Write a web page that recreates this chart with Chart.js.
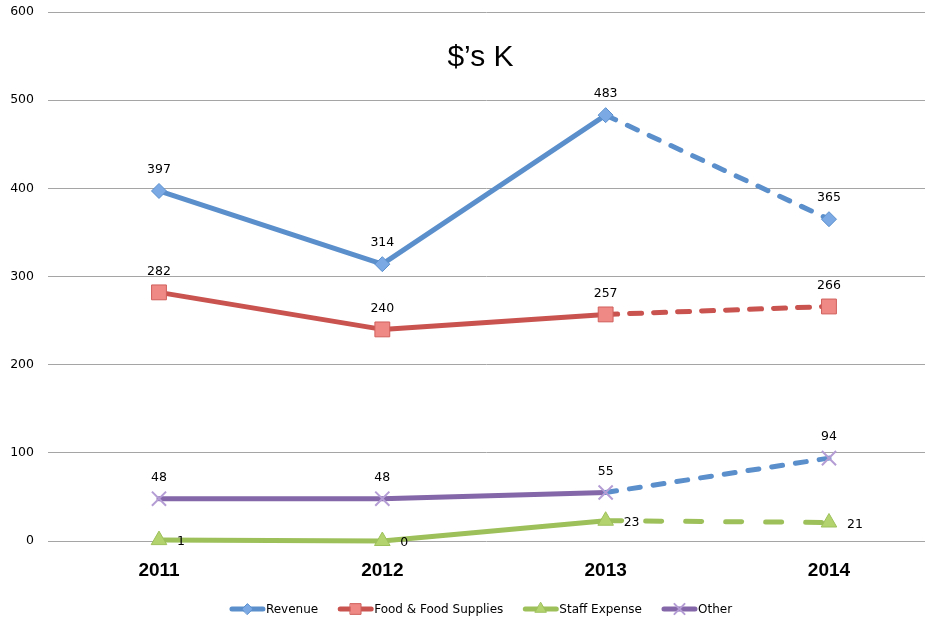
<!DOCTYPE html>
<html><head><meta charset="utf-8">
<script src="https://cdn.jsdelivr.net/npm/chart.js@4.4.0/dist/chart.umd.min.js"></script>
<style>html,body{margin:0;padding:0;background:#fff}</style>
</head><body>
<canvas id="c" width="928" height="618"></canvas>
<script>
// ---- data ----
const years = [2011, 2012, 2013, 2014];
const revenue = [397, 314, 483, 365];
const food = [282, 240, 257, 266];
const staff = [1, 0, 23, 21];
const other = [48, 48, 55, 94];
const yTickValues = [0, 100, 200, 300, 400, 500, 600];
const seriesNames = ['Revenue', 'Food & Food Supplies', 'Staff Expense', 'Other'];
const titleText = '$\u2019s K';

// ---- styles ----
const BLUE = '#5A8FCC', RED = '#C9534F', GREEN = '#9DC05A', PURPLE = '#8467A8';
const styles = [
  {line: BLUE, dashColor: BLUE, dash: [11, 13], ps: 'rectRot', r: 7.5, fill: '#7BA9E4', border: '#5A8FCC', bw: 1, side: 'top'},
  {line: RED, dashColor: RED, dash: [12, 12], ps: 'rect', r: 10.5, fill: '#EE8985', border: '#D0605C', bw: 1, side: 'top'},
  {line: GREEN, dashColor: GREEN, dash: [16, 24], ps: 'triangle', r: 9, fill: '#B3D36F', border: '#9DC05A', bw: 1, side: 'right'},
  {line: PURPLE, dashColor: BLUE, dash: [11, 13], ps: 'crossRot', r: 10, fill: '#B49DD4', border: '#B49DD4', bw: 2, side: 'top'}
];
const seriesValues = [revenue, food, staff, other];

const datasets = seriesValues.map((vals, i) => {
  const s = styles[i];
  return {
    label: seriesNames[i],
    data: years.map((y, j) => ({x: y, y: vals[j]})),
    borderColor: s.line,
    borderWidth: 5,
    borderCapStyle: 'round',
    borderJoinStyle: 'round',
    pointStyle: s.ps,
    pointRadius: s.r,
    pointHoverRadius: s.r,
    pointBackgroundColor: s.fill,
    pointBorderColor: s.border,
    pointBorderWidth: s.bw,
    tension: 0,
    fill: false,
    clip: false,
    labelSide: s.side,
    segment: {
      borderDash: ctx => ctx.p1DataIndex === years.length - 1 ? s.dash : undefined,
      borderColor: ctx => ctx.p1DataIndex === years.length - 1 ? s.dashColor : undefined
    }
  };
});

// ---- plugins ----
const valueLabels = {
  id: 'valueLabels',
  afterDatasetsDraw(chart) {
    const ctx = chart.ctx;
    ctx.save();
    ctx.font = '12.5px "DejaVu Sans"';
    ctx.fillStyle = '#000';
    ctx.textBaseline = 'middle';
    chart.data.datasets.forEach((ds, i) => {
      chart.getDatasetMeta(i).data.forEach((pt, j) => {
        const v = String(ds.data[j].y);
        if (ds.labelSide === 'right') {
          ctx.textAlign = 'left';
          ctx.fillText(v, pt.x + 18, pt.y + 2);
        } else {
          ctx.textAlign = 'center';
          ctx.fillText(v, pt.x, pt.y - 21);
        }
      });
    });
    ctx.restore();
  }
};

const titlePlugin = {
  id: 'innerTitle',
  beforeDatasetsDraw(chart) {
    const ctx = chart.ctx, a = chart.chartArea;
    ctx.save();
    ctx.font = '30px "Liberation Sans"';
    ctx.fillStyle = '#000';
    ctx.textAlign = 'center';
    ctx.textBaseline = 'alphabetic';
    ctx.fillText(titleText, (a.left + a.right) / 2 - 6, a.top + 54);
    ctx.restore();
  }
};

function drawMarker(ctx, s, x, y, scale) {
  const r = s.r * scale;
  ctx.save();
  ctx.fillStyle = s.fill;
  ctx.strokeStyle = s.border;
  ctx.lineWidth = s.bw;
  ctx.beginPath();
  if (s.ps === 'rectRot') {
    ctx.moveTo(x - r, y); ctx.lineTo(x, y - r); ctx.lineTo(x + r, y); ctx.lineTo(x, y + r); ctx.closePath();
    ctx.fill(); ctx.stroke();
  } else if (s.ps === 'rect') {
    const h = r * Math.SQRT1_2;
    ctx.rect(x - h, y - h, 2 * h, 2 * h); ctx.fill(); ctx.stroke();
  } else if (s.ps === 'triangle') {
    ctx.moveTo(x, y - r); ctx.lineTo(x + r * 0.866, y + r * 0.5); ctx.lineTo(x - r * 0.866, y + r * 0.5); ctx.closePath();
    ctx.fill(); ctx.stroke();
  } else {
    const h = r * Math.SQRT1_2;
    ctx.moveTo(x - h, y - h); ctx.lineTo(x + h, y + h); ctx.moveTo(x + h, y - h); ctx.lineTo(x - h, y + h);
    ctx.stroke();
  }
  ctx.restore();
}

const legendPlugin = {
  id: 'customLegend',
  afterDraw(chart) {
    const ctx = chart.ctx, a = chart.chartArea;
    ctx.save();
    ctx.font = '12px "DejaVu Sans"';
    const sampleW = 35, gap = 21;
    const widths = seriesNames.map(n => ctx.measureText(n).width);
    const total = widths.reduce((p, w) => p + w + sampleW, 0) + gap * (seriesNames.length - 1);
    let x = (a.left + a.right) / 2 - 6 - total / 2;
    const y = chart.height - 9;
    seriesNames.forEach((n, i) => {
      const s = styles[i];
      ctx.strokeStyle = s.line;
      ctx.lineWidth = 5;
      ctx.lineCap = 'round';
      ctx.beginPath(); ctx.moveTo(x + 2, y); ctx.lineTo(x + sampleW - 2, y); ctx.stroke();
      drawMarker(ctx, s, x + sampleW / 2, y, 0.72);
      ctx.fillStyle = '#000';
      ctx.textAlign = 'left';
      ctx.textBaseline = 'middle';
      ctx.fillText(n, x + sampleW + 1, y + 1);
      x += sampleW + widths[i] + gap;
    });
    ctx.restore();
  }
};

new Chart(document.getElementById('c'), {
  type: 'line',
  data: {datasets},
  plugins: [titlePlugin, valueLabels, legendPlugin],
  options: {
    responsive: false,
    animation: false,
    devicePixelRatio: 1,
    layout: {autoPadding: false, padding: {top: 12, right: 3, bottom: 27, left: 0}},
    plugins: {legend: {display: false}, title: {display: false}, tooltip: {enabled: false}},
    scales: {
      x: {
        type: 'linear',
        min: 2010.503,
        max: 2014.43,
        grid: {display: false},
        border: {display: false},
        afterBuildTicks: axis => { axis.ticks = years.map(v => ({value: v})); },
        afterFit: axis => { axis.height = 50; axis.paddingLeft = 0; axis.paddingRight = 0; },
        ticks: {
          padding: 10,
          color: '#000',
          font: {family: '"Liberation Sans"', size: 19, weight: 'bold'},
          callback: v => String(v)
        }
      },
      y: {
        min: 0,
        max: 600,
        grid: {color: '#A5A5A5', lineWidth: 1, drawTicks: false},
        border: {display: false},
        afterBuildTicks: axis => { axis.ticks = yTickValues.map(v => ({value: v})); },
        afterFit: axis => { axis.width = 48; axis.paddingTop = 0; axis.paddingBottom = 0; },
        ticks: {
          padding: 14,
          color: '#000',
          font: {family: '"DejaVu Sans"', size: 12.5},
          callback: v => String(v)
        }
      }
    }
  }
});
</script>
</body></html>
